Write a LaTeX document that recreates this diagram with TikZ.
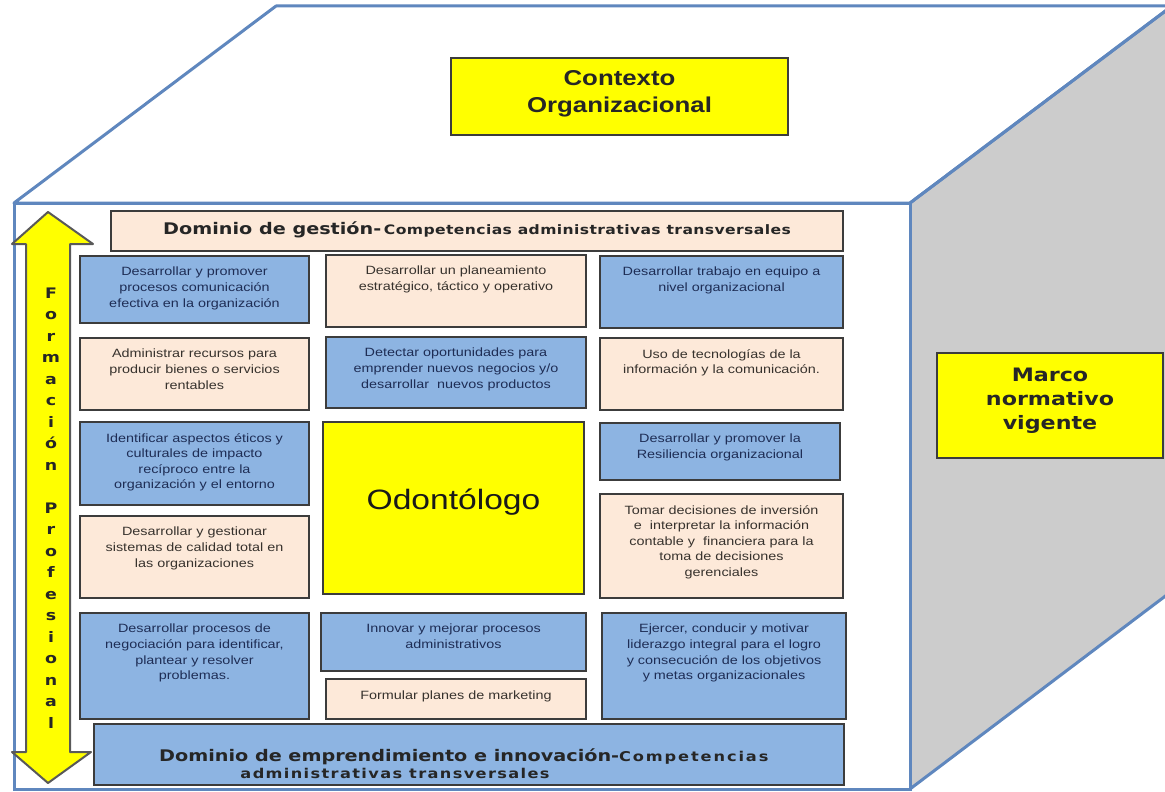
\documentclass[tikz,border=0pt]{standalone}
\usepackage{fontspec}
\setmainfont[FakeStretch=1.2]{Liberation Sans}
\newfontfamily\titfont[FakeStretch=1.2]{DejaVu Sans}
\definecolor{arete}{RGB}{95,135,190}
\definecolor{faceg}{RGB}{204,204,204}
\definecolor{bleuc}{RGB}{141,180,226}
\definecolor{peche}{RGB}{253,233,217}
\definecolor{jaune}{RGB}{255,255,0}
\definecolor{bord}{RGB}{60,60,60}
\definecolor{txtb}{RGB}{30,45,85}
\definecolor{txtp}{RGB}{55,50,45}
% boite de competence : nom, x1, y1, x2, y2, b/p, texte
\newcommand{\compbox}[7]{%
  \pgfmathsetmacro{\bw}{#4-#2}\pgfmathsetmacro{\bh}{#5-#3}\pgfmathsetmacro{\tw}{#4-#2-6}%
  \node[cadre#6, minimum width=\bw pt, minimum height=\bh pt, anchor=north west] (#1) at (#2,#3) {};
  \node[texte#6, text width=\tw pt, anchor=north] (#1t) at ([yshift=-11pt]#1.north) {#7};}
\begin{document}
\begin{tikzpicture}[x=1pt, y=-1pt,
  cadreb/.style={draw=bord, fill=bleuc, line width=1.6pt, inner sep=0pt, outer sep=0pt},
  cadrep/.style={draw=bord, fill=peche, line width=1.6pt, inner sep=0pt, outer sep=0pt},
  cadrej/.style={draw=bord, fill=jaune, line width=1.6pt, inner sep=0pt, outer sep=0pt},
  texteb/.style={text=txtb, align=center, inner sep=0pt, font=\fontsize{12}{15.6}\selectfont},
  textep/.style={text=txtp, align=center, inner sep=0pt, font=\fontsize{12}{15.6}\selectfont},
  titre/.style={align=center, inner sep=0pt, text=black!85, font=\titfont\bfseries\fontsize{16}{19}\selectfont},
  lettre/.style={anchor=base, inner sep=0pt, text=black!85, font=\titfont\bfseries\fontsize{14.5}{16}\selectfont}]
  \useasboundingbox (0,0) rectangle (1165,792);
  \clip (0,0) rectangle (1165,792);
  \fill[white] (0,0) rectangle (1165,792);
  % Face du dessus et face laterale du cube
  \fill[white] (14,203) -- (276,6) -- (1172,6) -- (910,203) -- cycle;
  \fill[faceg] (910,203) -- (1172,6) -- (1172,591) -- (910,789) -- cycle;
  \draw[arete, line width=3pt, line join=round] (14,203) -- (276,6) -- (1172,6) -- (910,203) -- cycle;
  \draw[arete, line width=3pt, line join=round] (910,203) -- (1172,6) -- (1172,591) -- (910,789);
  % Face avant
  \draw[arete, line width=3pt, fill=white] (14,203) rectangle (910,789);
  % Contexto et Marco
  \node[cadrej, minimum width=337pt, minimum height=77pt, anchor=north west] (ctx) at (451,58) {};
  \node[align=center, inner sep=0pt, text=black!85, font=\bfseries\fontsize{21.5}{27}\selectfont] (ctxt) at ([yshift=3pt]ctx.center) {Contexto\\Organizacional};
  \node[cadrej, minimum width=226pt, minimum height=105pt, anchor=north west] (mar) at (937,353) {};
  \node[align=center, inner sep=0pt, text=black!85, font=\titfont\bfseries\fontsize{18.5}{24}\selectfont] (mart) at ([yshift=5pt]mar.center) {Marco\\normativo\\vigente};
  % Fleche Formacion Profesional
  \draw[fill=jaune, draw=black!65, line width=2pt, line join=round]
    (48,212) -- (93,244) -- (70,244) -- (70,752) -- (91,752) -- (48,783)
    -- (12,752) -- (26,752) -- (26,244) -- (12,244) -- cycle;
  \foreach \l [count=\i from 0] in {F,o,r,m,a,c,i,ó,n,{},P,r,o,f,e,s,i,o,n,a,l}
    \node[lettre] (l\i) at (51,{298+21.5*\i}) {\l};
  % Dominio de gestion
  \node[cadrep, minimum width=732pt, minimum height=40pt, anchor=north west] (dg) at (111,211) {};
  \node[titre] (dgt) at ([yshift=1pt]dg.center) {Dominio de gestión-\,{\fontsize{13}{15}\selectfont\addfontfeature{LetterSpace=3} Competencias administrativas transversales}};
  % Competencias
  \compbox{c11}{80}{256}{309}{323}{b}{Desarrollar y promover\\procesos comunicación\\efectiva en la organización}
  \compbox{c12}{326}{255}{586}{327}{p}{Desarrollar un planeamiento\\estratégico, táctico y operativo}
  \compbox{c13}{600}{256}{843}{328}{b}{Desarrollar trabajo en equipo a\\nivel organizacional}
  \compbox{c21}{80}{338}{309}{410}{p}{Administrar recursos para\\producir bienes o servicios\\rentables}
  \compbox{c22}{326}{337}{586}{408}{b}{Detectar oportunidades para\\emprender nuevos negocios y/o\\desarrollar\ \ nuevos productos}
  \compbox{c23}{600}{338}{843}{410}{p}{Uso de tecnologías de la\\información y la comunicación.}
  \compbox{c31}{80}{422}{309}{505}{b}{Identificar aspectos éticos y\\culturales de impacto\\recíproco entre la\\organización y el entorno}
  \compbox{c33}{600}{423}{840}{480}{b}{Desarrollar y promover la\\Resiliencia organizacional}
  \compbox{c41}{80}{516}{309}{598}{p}{Desarrollar y gestionar\\sistemas de calidad total en\\las organizaciones}
  \compbox{c43}{600}{494}{843}{598}{p}{Tomar decisiones de inversión\\e\ \ interpretar la información\\contable y\ \ financiera para la\\toma de decisiones\\gerenciales}
  \compbox{c51}{80}{613}{309}{719}{b}{Desarrollar procesos de\\negociación para identificar,\\plantear y resolver\\problemas.}
  \compbox{c52}{321}{613}{586}{671}{b}{Innovar y mejorar procesos\\administrativos}
  \compbox{c53}{602}{613}{846}{719}{b}{Ejercer, conducir y motivar\\liderazgo integral para el logro\\y consecución de los objetivos\\y metas organizacionales}
  \node[cadrep, minimum width=260pt, minimum height=40pt, anchor=north west] (mk) at (326,679) {};
  \node[textep] (mkt) at ([yshift=3pt]mk.center) {Formular planes de marketing};
  % Odontologo
  \node[cadrej, minimum width=261pt, minimum height=172pt, anchor=north west] (odo) at (323,422) {};
  \node[inner sep=0pt, text=black!90, font=\fontsize{28}{32}\selectfont] (odot) at ([yshift=6pt]odo.center) {Odontólogo};
  % Dominio de emprendimiento
  \node[cadreb, minimum width=750pt, minimum height=61pt, anchor=north west] (de) at (94,724) {};
  \node[titre, anchor=base west] (det) at (159,761) {Dominio de emprendimiento e innovación-{\fontsize{13.5}{15}\selectfont\addfontfeature{LetterSpace=14}Competencias}};
  \node[titre, anchor=base, font=\titfont\bfseries\fontsize{13.5}{15}\selectfont\addfontfeature{LetterSpace=10}] (det2) at (395,778) {administrativas transversales};
\end{tikzpicture}
\end{document}
